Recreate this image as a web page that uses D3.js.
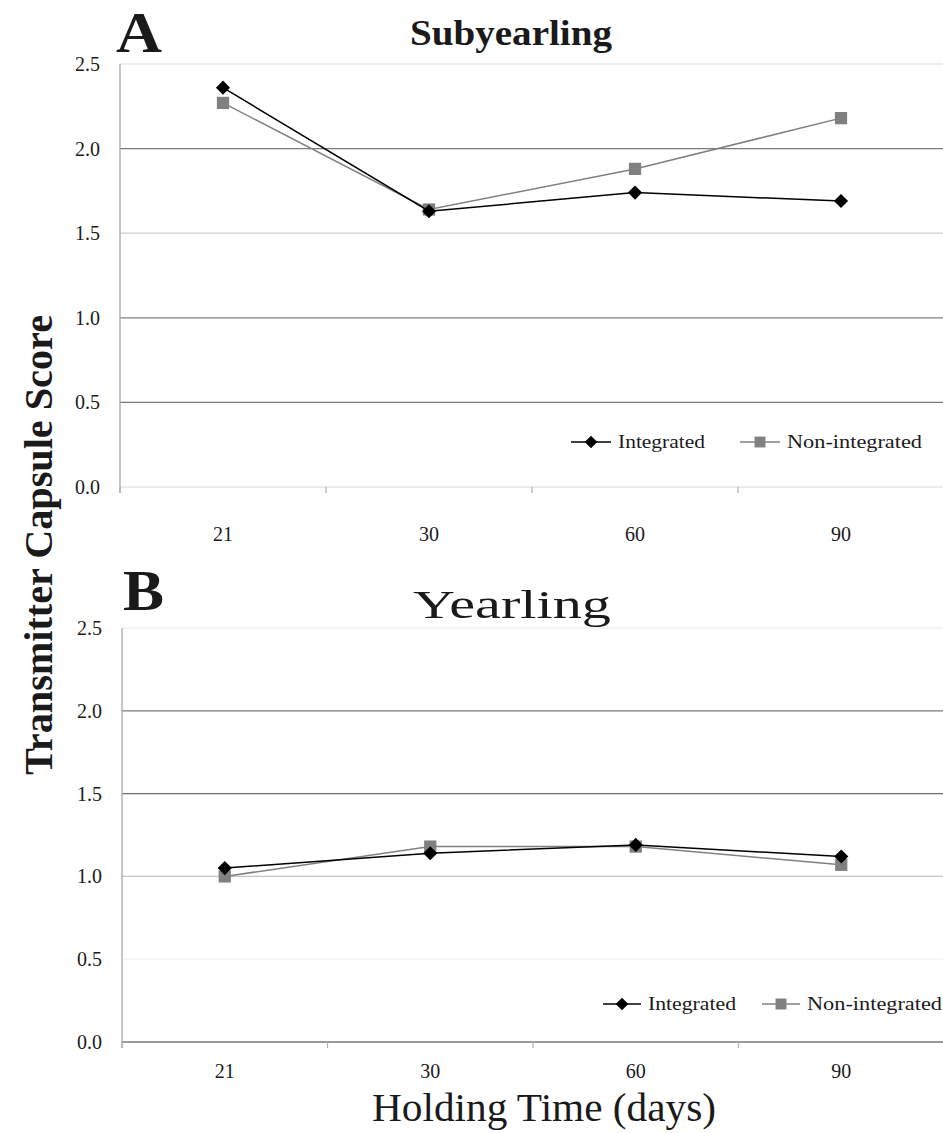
<!DOCTYPE html>
<html>
<head>
<meta charset="utf-8">
<script src="https://cdn.jsdelivr.net/npm/d3@7"></script>
<style>
  html, body { margin: 0; padding: 0; background: #fff; }
  svg { display: block; }
  text { font-family: "Liberation Serif", "DejaVu Serif", serif; fill: #1a1a1a; }
</style>
</head>
<body>
<svg id="chart" width="943" height="1133"></svg>
<script>
// Holding times (days) on the category axis
const holdingDays = ["21", "30", "60", "90"];
const yTicks = [0, 0.5, 1.0, 1.5, 2.0, 2.5];
const seriesNames = ["Integrated", "Non-integrated"];

// Mean transmitter capsule scores, subyearling fish (panel A)
const subIntegrated    = [2.36, 1.63, 1.74, 1.69];
const subNonIntegrated = [2.27, 1.64, 1.88, 2.18];

// Mean transmitter capsule scores, yearling fish (panel B)
const yrIntegrated    = [1.05, 1.14, 1.19, 1.12];
const yrNonIntegrated = [1.00, 1.18, 1.18, 1.07];

const svg = d3.select("#chart");
const serif = "Liberation Serif, DejaVu Serif, serif";

// diamond = square turned 45 degrees
const seriesStyle = [
  { color: "#000000", symbol: d3.symbolSquare, rotate: 45, size: 100, width: 1.5 },
  { color: "#808080", symbol: d3.symbolSquare, rotate: 0,  size: 150, width: 1.5 }
];

function panel(cfg) {
  const g = svg.append("g");
  const x = d3.scaleBand().domain(holdingDays).range([cfg.left, cfg.right]);
  const y = d3.scaleLinear().domain([0, 2.5]).range([cfg.bottom, cfg.top]);

  // horizontal gridlines (printed shades vary from line to line)
  g.selectAll("line.grid").data(yTicks).join("line")
    .attr("x1", cfg.left).attr("x2", cfg.right)
    .attr("y1", d => y(d)).attr("y2", d => y(d))
    .attr("stroke", (d, i) => cfg.gridShades[i])
    .attr("stroke-width", 1.3);

  // y axis
  const ya = g.append("g").attr("transform", `translate(${cfg.left},0)`)
    .call(d3.axisLeft(y).tickValues(yTicks).tickFormat(d3.format(".1f")).tickSize(0).tickPadding(20));
  ya.select(".domain").remove();
  ya.selectAll("text")
    .style("font-size", "20px").style("font-family", serif).attr("fill", "#1a1a1a");
  g.append("line")
    .attr("x1", cfg.left).attr("x2", cfg.left)
    .attr("y1", y(2.5)).attr("y2", cfg.bottom + 6)
    .attr("stroke", "#a8a8a8").attr("stroke-width", 1.3);

  // x axis ticks at category boundaries
  const bounds = holdingDays.map(d => x(d)).concat([x.range()[1]]);
  g.selectAll("line.xt").data(bounds).join("line")
    .attr("x1", d => d).attr("x2", d => d)
    .attr("y1", cfg.bottom).attr("y2", cfg.bottom + 6)
    .attr("stroke", "#b0b0b0").attr("stroke-width", 1.2);
  g.selectAll("text.xl").data(holdingDays).join("text")
    .attr("x", d => x(d) + x.bandwidth() / 2)
    .attr("y", cfg.bottom + cfg.xLabelGap)
    .attr("text-anchor", "middle")
    .style("font-size", "20px")
    .text(d => d);

  // series lines and markers
  const cx = d => x(d) + x.bandwidth() / 2;
  const line = d3.line().x(d => cx(d.k)).y(d => y(d.v));
  cfg.order.forEach(si => {
    const vals = si === 0 ? cfg.s1 : cfg.s2;
    const st = seriesStyle[si];
    const pts = holdingDays.map((k, i) => ({ k, v: vals[i] }));
    g.append("path").datum(pts)
      .attr("d", line).attr("fill", "none")
      .attr("stroke", st.color).attr("stroke-width", st.width);
    g.selectAll(null).data(pts).join("path")
      .attr("transform", d => `translate(${cx(d.k)},${y(d.v)}) rotate(${st.rotate})`)
      .attr("d", d3.symbol().type(st.symbol).size(st.size))
      .attr("fill", st.color);
  });

  // legend
  cfg.legend.forEach((lg, i) => {
    const st = seriesStyle[i];
    g.append("line")
      .attr("x1", lg.x).attr("x2", lg.x + lg.len)
      .attr("y1", cfg.legendY).attr("y2", cfg.legendY)
      .attr("stroke", st.color).attr("stroke-width", 1.6);
    g.append("path")
      .attr("transform", `translate(${lg.x + lg.len / 2},${cfg.legendY}) rotate(${st.rotate})`)
      .attr("d", d3.symbol().type(st.symbol).size(st.size * 0.8))
      .attr("fill", st.color);
    g.append("text")
      .attr("x", lg.x + lg.len + 7).attr("y", cfg.legendY + 6)
      .style("font-size", "19px")
      .attr("textLength", lg.textLen).attr("lengthAdjust", "spacingAndGlyphs")
      .text(seriesNames[i]);
  });

  // panel letter and title
  g.append("text").attr("x", cfg.letterX).attr("y", cfg.letterY)
    .style("font-size", "56px").style("font-weight", "bold")
    .attr("textLength", cfg.letterLen).attr("lengthAdjust", "spacingAndGlyphs")
    .text(cfg.letter);
  g.append("text").attr("x", cfg.titleX).attr("y", cfg.titleY)
    .style("font-size", cfg.titleSize).style("font-weight", cfg.titleWeight)
    .attr("textLength", cfg.titleLen).attr("lengthAdjust", "spacingAndGlyphs")
    .text(cfg.title);
}

panel({
  left: 120, right: 944, top: 64, bottom: 487,
  s1: subIntegrated, s2: subNonIntegrated, order: [1, 0],
  gridShades: ["#e4e4e4", "#7a7a7a", "#808080", "#d0d0d0", "#7a7a7a", "#e6e6e6"],
  xLabelGap: 54,
  legendY: 442,
  legend: [{ x: 571, len: 40, textLen: 87 }, { x: 740, len: 40, textLen: 135 }],
  letter: "A", letterX: 116, letterY: 52, letterLen: 46,
  title: "Subyearling", titleX: 410, titleY: 45, titleSize: "36px", titleLen: 202, titleWeight: "bold"
});

panel({
  left: 122, right: 944, top: 628, bottom: 1042,
  s1: yrIntegrated, s2: yrNonIntegrated, order: [1, 0],
  gridShades: ["#7a7a7a", "#f0f0f0", "#c4c4c4", "#6e6e6e", "#7a7a7a", "#eeeeee"],
  xLabelGap: 36,
  legendY: 1004,
  legend: [{ x: 603, len: 38, textLen: 88 }, { x: 762, len: 38, textLen: 135 }],
  letter: "B", letterX: 123, letterY: 610, letterLen: 41,
  title: "Yearling", titleX: 413, titleY: 618, titleSize: "41px", titleLen: 198, titleWeight: "normal"
});

// shared axis titles
svg.append("text")
  .attr("transform", "translate(52,545) rotate(-90)")
  .attr("text-anchor", "middle")
  .style("font-size", "40px").style("font-weight", "bold")
  .attr("textLength", 460).attr("lengthAdjust", "spacingAndGlyphs")
  .text("Transmitter Capsule Score");

svg.append("text")
  .attr("x", 372).attr("y", 1121)
  .style("font-size", "40px")
  .attr("textLength", 344).attr("lengthAdjust", "spacingAndGlyphs")
  .text("Holding Time (days)");
</script>
</body>
</html>
